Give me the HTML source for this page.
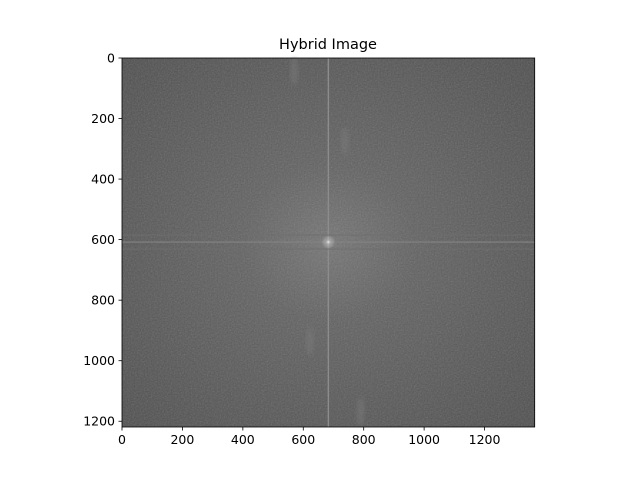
<!DOCTYPE html>
<html><head><meta charset="utf-8"><style>
body{margin:0;background:#fff;}
svg text{font-family:"DejaVu Sans","Liberation Sans",sans-serif;font-size:12.5px;fill:#000;}
</style></head><body>
<svg width="640" height="480" viewBox="0 0 640 480">
<defs>
<radialGradient id="glow" cx="0.5" cy="0.5" r="0.7">
<stop offset="0" stop-color="#747474"/>
<stop offset="0.3" stop-color="#616161"/>
<stop offset="1" stop-color="#4e4e4e"/>
</radialGradient>
<radialGradient id="dot"><stop offset="0" stop-color="#fff" stop-opacity="0.85"/><stop offset="0.3" stop-color="#ddd" stop-opacity="0.4"/><stop offset="1" stop-color="#fff" stop-opacity="0"/></radialGradient>
<filter id="noise" x="0" y="0" width="100%" height="100%">
<feTurbulence type="fractalNoise" baseFrequency="0.7" numOctaves="2" seed="3"/>
<feColorMatrix type="saturate" values="0"/>
<feComponentTransfer><feFuncA type="linear" slope="0.25"/></feComponentTransfer>
</filter>
<filter id="blur"><feGaussianBlur stdDeviation="2"/></filter>
</defs>
<text x="328" y="49" text-anchor="middle" style="font-size:14.5px">Hybrid Image</text>
<g id="plot"></g>
<g id="axes"></g>
</svg>
<script>
const imgWidth = 1366;
const imgHeight = 1219;
const centerX = [683];
const centerY = [608];
const blobX = [570, 738, 622, 790];
const blobY = [44, 275, 936, 1167];
const xTicks = [0, 200, 400, 600, 800, 1000, 1200];
const yTicks = [0, 200, 400, 600, 800, 1000, 1200];

const L = 122, R = 534.7, T = 58, B = 427;
const sx = v => L + v / imgWidth * (R - L);
const sy = v => T + v / imgHeight * (B - T);
const NS = 'http://www.w3.org/2000/svg';
function mk(tag, attrs, parent) {
  const e = document.createElementNS(NS, tag);
  for (const k in attrs) e.setAttribute(k, attrs[k]);
  parent.appendChild(e);
  return e;
}
const plot = document.getElementById('plot');
const axes = document.getElementById('axes');
const cx = sx(centerX[0]), cy = sy(centerY[0]);

let bg = mk('rect', {x: L, y: T, width: R - L, height: B - T, fill: 'url(#glow)'}, plot);


let nz = mk('rect', {x: L, y: T, width: R - L, height: B - T, filter: 'url(#noise)'}, plot);



blobX.forEach((bx, i) => {
  let e = mk('ellipse', {cx: sx(bx), cy: sy(blobY[i]), rx: 4, ry: 14, fill: '#7e7e7e', opacity: 0.45, filter: 'url(#blur)'}, plot);
  
  
});

let vl = mk('line', {x1: cx, y1: T, x2: cx, y2: B, stroke: '#8c8c8c', 'stroke-width': 1.4}, plot);


let hl = mk('line', {x1: L, y1: cy, x2: R, y2: cy, stroke: '#838383', 'stroke-width': 1.1}, plot);


[-1, 1].forEach(d => {
  let h = mk('line', {x1: L, y1: cy + d * 7, x2: R, y2: cy + d * 7, stroke: '#6e6e6e', 'stroke-width': 0.8}, plot);
  
  
});
let dc = mk('circle', {cx: cx, cy: cy, r: 7, fill: 'url(#dot)'}, plot);



let frame = mk('rect', {x: L, y: T, width: R - L, height: B - T, fill: 'none', stroke: '#000', 'stroke-width': 0.8}, axes);



xTicks.forEach(v => {
  const x = sx(v);
  let t = mk('line', {x1: x, y1: B, x2: x, y2: B + 3.5, stroke: '#000', 'stroke-width': 0.8}, axes);
  
  
  let l = mk('text', {x: x, y: B + 17, 'text-anchor': 'middle'}, axes);
  l.textContent = v;
  
  
});
yTicks.forEach(v => {
  const y = sy(v);
  let t = mk('line', {x1: L - 3.5, y1: y, x2: L, y2: y, stroke: '#000', 'stroke-width': 0.8}, axes);
  
  
  let l = mk('text', {x: L - 7, y: y + 4.5, 'text-anchor': 'end'}, axes);
  l.textContent = v;
  
  
});
</script>
</body></html>
